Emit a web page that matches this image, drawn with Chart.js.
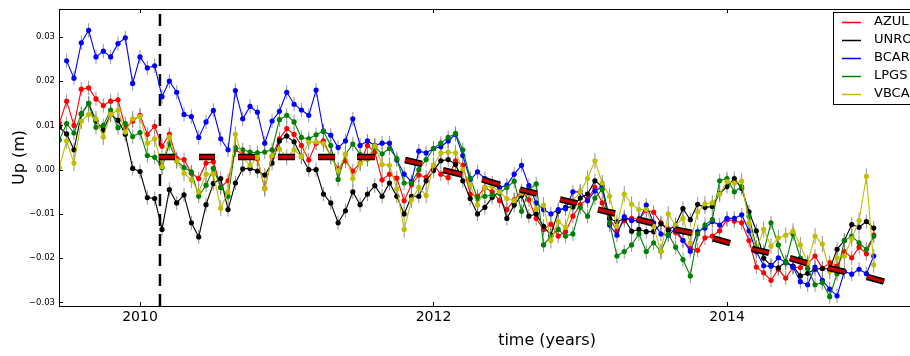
<!DOCTYPE html>
<html>
<head>
<meta charset="utf-8">
<script src="https://cdn.jsdelivr.net/npm/chart.js@4.4.0/dist/chart.umd.min.js"></script>
<style>
  html, body { margin: 0; padding: 0; background: #fff; overflow: hidden; }
  canvas { display: block; }
</style>
</head>
<body>
<canvas id="upChart" width="1045" height="356"></canvas>
<script>
// sampling epochs (decimal years), one every 0.05 yr
const times = [
  2009.45, 2009.50, 2009.55, 2009.60, 2009.65, 2009.70, 2009.75, 2009.80, 2009.85, 2009.90,
  2009.95, 2010.00, 2010.05, 2010.10, 2010.15, 2010.20, 2010.25, 2010.30, 2010.35, 2010.40,
  2010.45, 2010.50, 2010.55, 2010.60, 2010.65, 2010.70, 2010.75, 2010.80, 2010.85, 2010.90,
  2010.95, 2011.00, 2011.05, 2011.10, 2011.15, 2011.20, 2011.25, 2011.30, 2011.35, 2011.40,
  2011.45, 2011.50, 2011.55, 2011.60, 2011.65, 2011.70, 2011.75, 2011.80, 2011.85, 2011.90,
  2011.95, 2012.00, 2012.05, 2012.10, 2012.15, 2012.20, 2012.25, 2012.30, 2012.35, 2012.40,
  2012.45, 2012.50, 2012.55, 2012.60, 2012.65, 2012.70, 2012.75, 2012.80, 2012.85, 2012.90,
  2012.95, 2013.00, 2013.05, 2013.10, 2013.15, 2013.20, 2013.25, 2013.30, 2013.35, 2013.40,
  2013.45, 2013.50, 2013.55, 2013.60, 2013.65, 2013.70, 2013.75, 2013.80, 2013.85, 2013.90,
  2013.95, 2014.00, 2014.05, 2014.10, 2014.15, 2014.20, 2014.25, 2014.30, 2014.35, 2014.40,
  2014.45, 2014.50, 2014.55, 2014.60, 2014.65, 2014.70, 2014.75, 2014.80, 2014.85, 2014.90,
  2014.95, 2015.00
];

const stations = ["AZUL", "UNRO", "BCAR", "LPGS", "VBCA"];
const stationColors = ["#ff0000", "#000000", "#0000ff", "#008000", "#bfbf00"];

// vertical position in mm
const azul = [
  10.5, 15.5, 10.0, 18.2, 18.5, 16.0, 14.5, 15.5, 15.8, 9.5,
  11.0, 12.3, 8.0, 9.8, 5.3, 8.0, 2.5, 2.3, -0.8, -2.0,
  1.5, 1.8, -4.0, -2.5, 4.5, 3.5, 2.9, 2.5, -4.2, 3.0,
  7.0, 9.3, 8.0, 5.5, 2.2, 6.0, 6.5, 3.0, 0.2, 2.0,
  -0.3, 1.5, 5.5, 4.0, -2.3, -1.0, -1.9, -7.0, -3.4, -1.2,
  -1.7, 1.0, -1.0, -1.8, 2.0, 1.0, -5.5, -6.0, -4.0, -5.0,
  -7.0, -9.0, -6.8, -4.8, -6.8, -11.0, -13.5, -12.3, -15.0, -14.0,
  -10.5, -7.9, -6.6, -4.0, -7.5, -11.0, -13.8, -11.5, -11.0, -11.2,
  -9.2, -9.6, -12.0, -13.4, -14.2, -16.0, -17.8, -18.2, -15.4, -15.0,
  -13.8, -11.3, -11.6, -12.0, -16.0, -22.0, -23.3, -25.0, -22.5, -24.5,
  -22.1, -22.1, -21.2, -19.5, -22.3, -21.0, -21.8, -18.5, -19.9, -17.5,
  -19.0, -14.8
];
const unro = [
  9.6, 8.1, 4.5, 12.6, 15.0, 11.0, 9.0, 12.5, 11.2, 8.0,
  0.3, -0.4, -6.3, -6.5, -13.5, -4.5, -7.5, -5.7, -12.0, -15.2,
  -7.9, -3.1, -2.0, -9.0, -3.0, 0.2, 0.3, -0.3, -1.2, 1.5,
  6.5, 7.6, 6.3, 3.0, 0.0, 0.0, -5.5, -7.5, -12.0, -9.3,
  -5.0, -7.9, -5.5, -3.6, -6.0, -3.0, -6.0, -10.0, -6.0, -6.0,
  -2.5, -0.2, 2.0, 2.3, 1.2, -2.5, -6.5, -10.0, -8.5, -6.2,
  -5.0, -11.0, -8.0, -5.8, -10.5, -10.0, -12.8, -14.8, -9.4, -8.5,
  -8.4, -6.4, -5.5, -2.5, -3.8, -11.0, -11.8, -11.0, -13.9, -13.5,
  -14.0, -14.0, -12.2, -13.7, -12.5, -8.8, -11.3, -7.8, -8.5, -8.3,
  -5.4, -3.8, -2.0, -4.2, -9.5, -13.8, -20.0, -21.6, -22.2, -20.8,
  -21.8, -24.0, -23.4, -22.5, -22.3, -22.5, -18.0, -16.0, -12.4, -13.0,
  -11.7, -13.2
];
const bcar = [
  null, 24.6, 20.7, 28.7, 31.5, 25.5, 26.8, 25.5, 28.5, 29.8,
  19.5, 25.5, 23.0, 23.5, 16.5, 20.0, 17.5, 12.5, 12.0, 7.3,
  10.8, 13.4, 7.0, 4.5, 17.9, 11.5, 14.3, 13.0, 6.0, 11.0,
  13.2, 17.5, 14.8, 13.5, 12.3, 18.0, 8.7, 7.8, 5.0, 6.5,
  11.5, 5.5, 6.5, 5.5, 6.0, 6.0, 2.2, -1.0, -2.7, 4.2,
  3.8, 4.8, 5.2, 6.5, 8.0, 3.2, -2.3, -0.5, -2.0, -3.0,
  -4.0, -3.5, -1.0, 1.0, -3.6, -7.5, -9.0, -10.0, -9.0, -8.8,
  -5.0, -5.0, -7.0, -4.8, -3.8, -12.5, -14.8, -10.6, -11.5, -11.5,
  -8.0, -12.0, -14.5, -14.8, -13.4, -16.0, -18.4, -14.0, -13.2, -11.7,
  -12.5, -11.0, -11.0, -10.2, -13.8, -18.5, -21.7, -21.8, -19.9, -21.0,
  -22.0, -25.3, -26.0, -22.0, -25.0, -27.0, -28.5, -23.0, -23.6, -22.5,
  -23.5, -19.5
];
const lpgs = [
  6.7, 10.4, 8.3, 12.6, 15.0, 9.6, 10.0, 13.5, 9.5, 10.4,
  7.5, 8.4, 3.2, 2.8, 0.5, 5.9, 2.0, 0.5, -0.5, -6.0,
  -3.5, 0.3, -4.0, -6.0, 5.0, 4.5, 4.0, 3.8, 4.0, 4.5,
  11.3, 12.3, 10.8, 7.3, 7.0, 7.9, 8.7, 5.5, -2.2, 3.5,
  5.8, 3.5, 2.4, 5.1, 3.6, 4.8, 2.5, -3.0, -3.0, 0.0,
  2.3, 4.8, 6.0, 7.3, 8.2, 4.5, -1.9, -6.5, -6.0, -5.7,
  -5.3, -4.0, -2.6, -9.4, -4.6, -3.2, -17.0, -15.0, -13.5, -15.0,
  -14.5, -8.5, -10.5, -6.4, -4.4, -12.0, -19.5, -18.5, -17.0, -14.5,
  -18.5, -16.5, -18.5, -14.6, -17.5, -20.3, -24.0, -14.5, -12.5, -11.3,
  -2.5, -2.0, -5.0, -3.8, -10.5, -17.5, -18.5, -12.0, -17.0, -21.0,
  -14.5, -20.0, -22.3, -26.0, -25.5, -28.7, -23.5, -16.0, -15.0, -16.5,
  -18.0, -15.0
];
const vbca = [
  0.5, 6.5, 1.5, 11.0, 12.5, 11.5, 7.4, 12.5, 13.5, 8.5,
  11.5, 12.0, 6.0, 7.0, 0.7, 7.4, 2.0, -0.8, -2.3, -5.0,
  -1.0, -1.0, -8.7, -5.0, 8.0, 2.7, 1.0, 2.8, -4.3, 3.2,
  4.7, 2.8, 4.5, 3.0, 6.2, 6.3, 5.9, 3.0, -0.2, 3.5,
  -2.0, 1.4, 2.5, 5.4, 1.2, 1.0, -4.3, -13.5, -6.8, -4.0,
  -5.8, 1.0, 3.8, 4.0, 3.8, 0.0, -3.3, -8.0, -4.0, -3.8,
  -5.0, -6.5, -7.0, -5.3, -4.9, -8.9, -8.0, -16.0, -11.7, -13.0,
  -7.0, -5.0, -2.0, 2.0, -3.0, -6.0, -12.8, -5.5, -7.8, -9.0,
  -9.0, -12.8, -18.5, -10.0, -12.6, -11.0, -16.5, -9.5, -7.7, -7.5,
  -5.5, -2.7, -3.0, -2.6, -12.0, -18.0, -13.5, -17.3, -15.4, -14.8,
  -13.9, -17.0, -21.0, -15.0, -16.8, -23.0, -19.9, -19.5, -15.6, -11.5,
  -1.5, -21.5
];
const sigma = [1.6, 1.6, 1.6, 1.6, 1.8]; // error bar half length, mm

// fitted model pieces (mm)
const trendStart = [2010.129, 2010.402, 2010.668, 2010.940, 2011.213, 2011.479, 2011.806, 2012.065, 2012.331, 2012.589,
  2012.862, 2013.121, 2013.387, 2013.646, 2013.905, 2014.170, 2014.429, 2014.688, 2014.954];
const trendEnd = [2010.238, 2010.511, 2010.784, 2011.056, 2011.329, 2011.601, 2011.922, 2012.194, 2012.453, 2012.705,
  2012.978, 2013.237, 2013.496, 2013.762, 2014.021, 2014.286, 2014.545, 2014.804, 2015.070];
const trendStartVal = [2.9, 2.9, 2.9, 2.9, 2.9, 2.9, 2.2, -0.1, -2.2, -4.5, -6.7, -9.0, -11.2, -13.5, -15.5, -17.9, -20.0, -22.2, -24.2];
const trendEndVal = [2.9, 2.9, 2.9, 2.9, 2.9, 2.9, 1.3, -1.1, -3.4, -5.4, -7.6, -9.9, -12.1, -14.3, -16.6, -18.8, -21.1, -23.1, -25.3];

const quakeYear = 2010.136;
const xTicks = [2010, 2012, 2014, 2016];
const yTicks = [-0.03, -0.02, -0.01, 0, 0.01, 0.02, 0.03];
const xMin = 2009.448, xMax = 2016.099;
const yMin = -0.0308, yMax = 0.0363;

const FONT = "DejaVu Sans";
const series = [azul, unro, bcar, lpgs, vbca];

function toPoints(values) {
  return times.map((t, i) => ({ x: t, y: values[i] === null ? null : values[i] / 1000 }));
}

const datasets = series.map((vals, k) => ({
  label: stations[k],
  data: toPoints(vals),
  borderColor: stationColors[k],
  backgroundColor: stationColors[k],
  borderWidth: 1.1,
  pointRadius: 2.6,
  pointBorderWidth: 0,
  pointBackgroundColor: stationColors[k],
  sigma: sigma[k] / 1000,
  isStation: true,
  order: 5 - k
}));

const trendPts = [];
trendStart.forEach((s, k) => {
  trendPts.push({ x: s, y: trendStartVal[k] / 1000 });
  trendPts.push({ x: trendEnd[k], y: trendEndVal[k] / 1000 });
  trendPts.push({ x: trendEnd[k], y: null });
});

datasets.push({
  label: "trend outline", data: trendPts, borderColor: "#000000", borderWidth: 6.5,
  pointRadius: 0, borderCapStyle: "butt", spanGaps: false, order: -1
});
datasets.push({
  label: "trend", data: trendPts, borderColor: "#c00000", borderWidth: 3.5,
  pointRadius: 0, borderCapStyle: "butt", spanGaps: false, order: -2
});
datasets.push({
  label: "event", data: [{ x: quakeYear, y: yMin }, { x: quakeYear, y: yMax }],
  borderColor: "#000000", borderWidth: 2.5, borderDash: [12, 8], pointRadius: 0, order: 10
});

const errorBars = {
  id: "errorBars",
  beforeDatasetsDraw(chart) {
    const { ctx, chartArea: a, scales: { x, y } } = chart;
    ctx.save();
    ctx.beginPath();
    ctx.rect(a.left, a.top, a.right - a.left, a.bottom - a.top);
    ctx.clip();
    ctx.strokeStyle = "rgba(120,120,120,0.8)";
    ctx.lineWidth = 1;
    chart.data.datasets.forEach(ds => {
      if (!ds.isStation) return;
      ds.data.forEach(p => {
        if (p.y === null) return;
        const px = x.getPixelForValue(p.x);
        ctx.beginPath();
        ctx.moveTo(px, y.getPixelForValue(p.y - ds.sigma));
        ctx.lineTo(px, y.getPixelForValue(p.y + ds.sigma));
        ctx.stroke();
      });
    });
    ctx.restore();
  }
};

const frame = {
  id: "frame",
  afterDatasetsDraw(chart) {
    const { ctx, chartArea: a, scales: { x, y } } = chart;
    ctx.save();
    ctx.strokeStyle = "#000";
    ctx.lineWidth = 1;
    ctx.strokeRect(Math.round(a.left) + 0.5, Math.round(a.top) + 0.5,
      Math.round(a.right - a.left), Math.round(a.bottom - a.top));
    ctx.beginPath();
    xTicks.forEach(v => {
      const px = Math.round(x.getPixelForValue(v)) + 0.5;
      ctx.moveTo(px, a.bottom); ctx.lineTo(px, a.bottom - 4);
      ctx.moveTo(px, a.top); ctx.lineTo(px, a.top + 4);
    });
    yTicks.forEach(v => {
      const py = Math.round(y.getPixelForValue(v)) + 0.5;
      ctx.moveTo(a.left, py); ctx.lineTo(a.left + 4, py);
      ctx.moveTo(a.right, py); ctx.lineTo(a.right - 4, py);
    });
    ctx.stroke();
    ctx.restore();
  }
};

const boxLegend = {
  id: "boxLegend",
  afterDraw(chart) {
    const ctx = chart.ctx;
    ctx.save();
    ctx.fillStyle = "#fff";
    ctx.fillRect(833.5, 12.5, 180, 92);
    ctx.strokeStyle = "#000";
    ctx.lineWidth = 1;
    ctx.strokeRect(833.5, 12.5, 180, 92);
    ctx.font = "13px '" + FONT + "'";
    ctx.textBaseline = "middle";
    stations.forEach((name, k) => {
      const yy = 22 + k * 18;
      ctx.strokeStyle = stationColors[k];
      ctx.lineWidth = 1.5;
      ctx.beginPath();
      ctx.moveTo(842, yy + 0.5);
      ctx.lineTo(861, yy + 0.5);
      ctx.stroke();
      ctx.fillStyle = "#000";
      ctx.fillText(name, 874, yy);
    });
    ctx.restore();
  }
};

new Chart(document.getElementById("upChart"), {
  type: "line",
  data: { datasets: datasets },
  options: {
    responsive: false,
    animation: false,
    devicePixelRatio: 1,
    layout: { padding: { top: 7, right: 10, left: 0, bottom: 0 } },
    elements: { line: { tension: 0 } },
    plugins: { legend: { display: false }, tooltip: { enabled: false } },
    scales: {
      x: {
        type: "linear",
        min: xMin,
        max: xMax,
        afterBuildTicks: s => { s.ticks = xTicks.map(v => ({ value: v })); },
        afterFit: s => { s.height = 50; },
        grid: { display: false, drawTicks: false },
        border: { display: false },
        ticks: {
          font: { family: FONT, size: 14 }, color: "#000", padding: 3,
          maxRotation: 0, autoSkip: false, callback: v => String(v)
        },
        title: {
          display: true, text: "time (years)", color: "#000",
          font: { family: FONT, size: 16 }, padding: { top: 0, bottom: 6 }
        }
      },
      y: {
        type: "linear",
        min: yMin,
        max: yMax,
        afterBuildTicks: s => { s.ticks = yTicks.map(v => ({ value: v })); },
        afterFit: s => { s.width = 59; },
        grid: { display: false, drawTicks: false },
        border: { display: false },
        ticks: {
          font: { family: FONT, size: 8.5 }, color: "#000", padding: 4,
          callback: v => (v < -1e-9 ? "\u2212" : "") + Math.abs(v).toFixed(2)
        },
        title: {
          display: true, text: "Up (m)", color: "#000",
          font: { family: FONT, size: 16 }, padding: { top: 10, bottom: 0 }
        }
      }
    }
  },
  plugins: [errorBars, frame, boxLegend]
});
</script>
</body>
</html>
